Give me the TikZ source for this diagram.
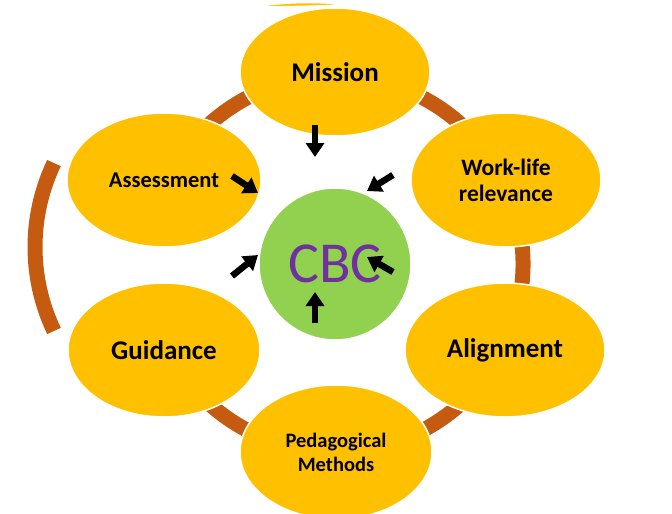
\documentclass[tikz,border=0pt]{standalone}
\usepackage{fontspec}
\setmainfont{Carlito}
\usetikzlibrary{shapes.geometric,arrows.meta}
\definecolor{petal}{HTML}{FFC000}
\definecolor{ringc}{HTML}{C55A11}
\definecolor{core}{HTML}{92D050}
\definecolor{cbctext}{HTML}{7030A0}
\newcommand{\fsz}[2]{\fontsize{#1}{#2}\selectfont}
\tikzset{
  petal/.style={ellipse, fill=petal, draw=white, line width=1.5pt, inner sep=0pt,
    minimum width=192pt, minimum height=134pt, align=center},
  ringband/.style={draw=ringc, line width=15pt, line cap=butt},
  blockarrow/.style={draw=black, line width=6.5pt,
    -{Triangle[width=18pt,length=14pt]}},
}
\begin{document}
\begin{tikzpicture}[x=1pt,y=-1pt]
\useasboundingbox (0,0) rectangle (672,514);
% ring
\coordinate (ringc) at (335,264);
\draw[ringband] (ringc) ++(165:188) arc[start angle=165, end angle=-165, radius=188];
\coordinate (leftc) at (230,247);
\draw[ringband] (leftc) ++(154.5:195) arc[start angle=154.5, end angle=205.5, radius=195];
% sliver
\fill[petal] (256,7) .. controls (280,2) and (320,1) .. (347,5) .. controls (320,6) and (285,7) .. (256,7) -- cycle;
% petals
\node[petal, minimum width=190pt, minimum height=128pt, font=\bfseries\fsz{27}{29}] (mission) at (335,72) {Mission};
\node[petal, minimum width=194pt, font=\bfseries\fsz{22.5}{25}] (assess) at (164,180) {Assessment};
\node[petal, minimum width=190pt, font=\bfseries\fsz{23.5}{26}] (work) at (506,180) {Work-life\\relevance};
\node[petal, minimum width=200pt, font=\bfseries\fsz{27}{29}] (align) at (505,350) {Alignment};
\node[petal, font=\bfseries\fsz{27}{29}] (guide) at (164,350) {Guidance};
\node[petal, font=\bfseries\fsz{20.5}{24}] (peda) at (336,452) {Pedagogical\\Methods};
% core
\node[circle, fill=core, draw=white, line width=1.5pt, minimum size=152pt, inner sep=0pt,
  text=cbctext, font=\fsz{58}{60}] (cbc) at (335,264) {CBC};
% arrows
\coordinate (a1s) at (315,125); \coordinate (a1e) at (315,157);
\coordinate (a2s) at (232,176); \coordinate (a2e) at (258,193);
\coordinate (a3s) at (393,175); \coordinate (a3e) at (367,191);
\coordinate (a4s) at (232,276); \coordinate (a4e) at (258,255);
\coordinate (a5s) at (393,272); \coordinate (a5e) at (367,257);
\coordinate (a6s) at (315,323); \coordinate (a6e) at (315,292);
\foreach \i in {1,...,6} { \draw[blockarrow] (a\i s) -- (a\i e); }
\end{tikzpicture}
\end{document}
